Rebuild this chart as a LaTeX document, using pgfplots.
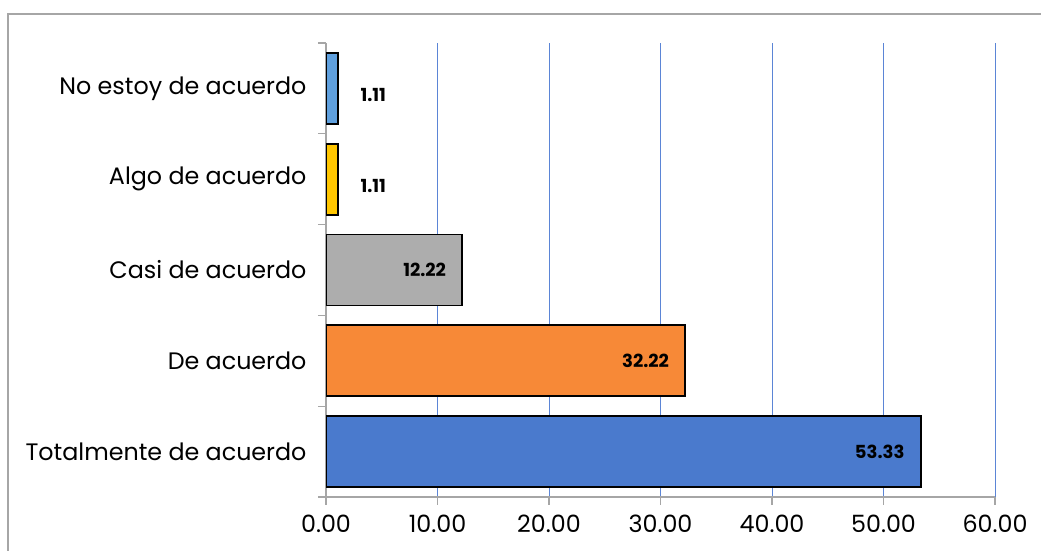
\documentclass[border=0pt]{standalone}
\usepackage{fontspec}
\setmainfont{Poppins}
\usepackage{pgfplots}
\pgfplotsset{compat=1.18}

\definecolor{cNo}{HTML}{5FA0DE}
\definecolor{cAlgo}{HTML}{FFC600}
\definecolor{cCasi}{HTML}{ADADAD}
\definecolor{cDe}{HTML}{F78937}
\definecolor{cTot}{HTML}{4A7ACD}
\definecolor{gridblue}{HTML}{5B85D6}
\definecolor{axisgray}{HTML}{A6A6A6}

\pgfplotsset{
  inside/.style={nodes near coords,
    every node near coord/.append style={anchor=east, xshift=-12pt}},
  outside/.style={nodes near coords,
    every node near coord/.append style={anchor=west, xshift=18pt, yshift=-7pt}},
}

\begin{document}
\begin{tikzpicture}[x=1pt,y=1pt]
\useasboundingbox (0,0) rectangle (1041,551);
\clip (0,0) rectangle (1041,551);
\draw[axisgray, line width=1.3pt] (8,-20) rectangle (1070,537);
\begin{axis}[
    at={(326pt,54pt)}, anchor=south west,
    scale only axis, width=669pt, height=454pt,
    xbar, bar shift=0pt, bar width=71pt,
    xmin=0, xmax=60, ymin=-0.5, ymax=4.5,
    xtick={0,10,...,60},
    ytick={-0.5,0.5,...,4.5},
    yticklabels={Totalmente de acuerdo, De acuerdo, Casi de acuerdo, Algo de acuerdo, No estoy de acuerdo, {}},
    yticklabel style={yshift=45.4pt, xshift=-8pt, font=\fontsize{23.8}{28}\selectfont},
    xticklabel style={yshift=-6pt, font=\fontsize{23.8}{28}\selectfont},
    /pgf/number format/assume math mode=true,
    xticklabel={\pgfmathprintnumber[fixed,fixed zerofill,precision=2]{\tick}},
    axis lines*=left,
    axis line style={axisgray, line width=1.2pt},
    tick align=outside, major tick length=8pt,
    tick style={axisgray, line width=1.2pt},
    xmajorgrids, grid style={gridblue, line width=0.9pt},
    nodes near coords={\bfseries\pgfmathprintnumber[fixed,fixed zerofill,precision=2]{\pgfplotspointmeta}},
    every node near coord/.style={font=\fontsize{18}{20}\selectfont\bfseries, text=black},
    every axis plot/.append style={draw=black, line width=1.8pt},
  ]
  \addplot[fill=cTot, inside] coordinates {(53.33,0)};
  \addplot[fill=cDe, inside] coordinates {(32.22,1)};
  \addplot[fill=cCasi, inside] coordinates {(12.22,2)};
  \addplot[fill=cAlgo, outside] coordinates {(1.11,3)};
  \addplot[fill=cNo, outside] coordinates {(1.11,4)};
\end{axis}
\end{tikzpicture}
\end{document}
